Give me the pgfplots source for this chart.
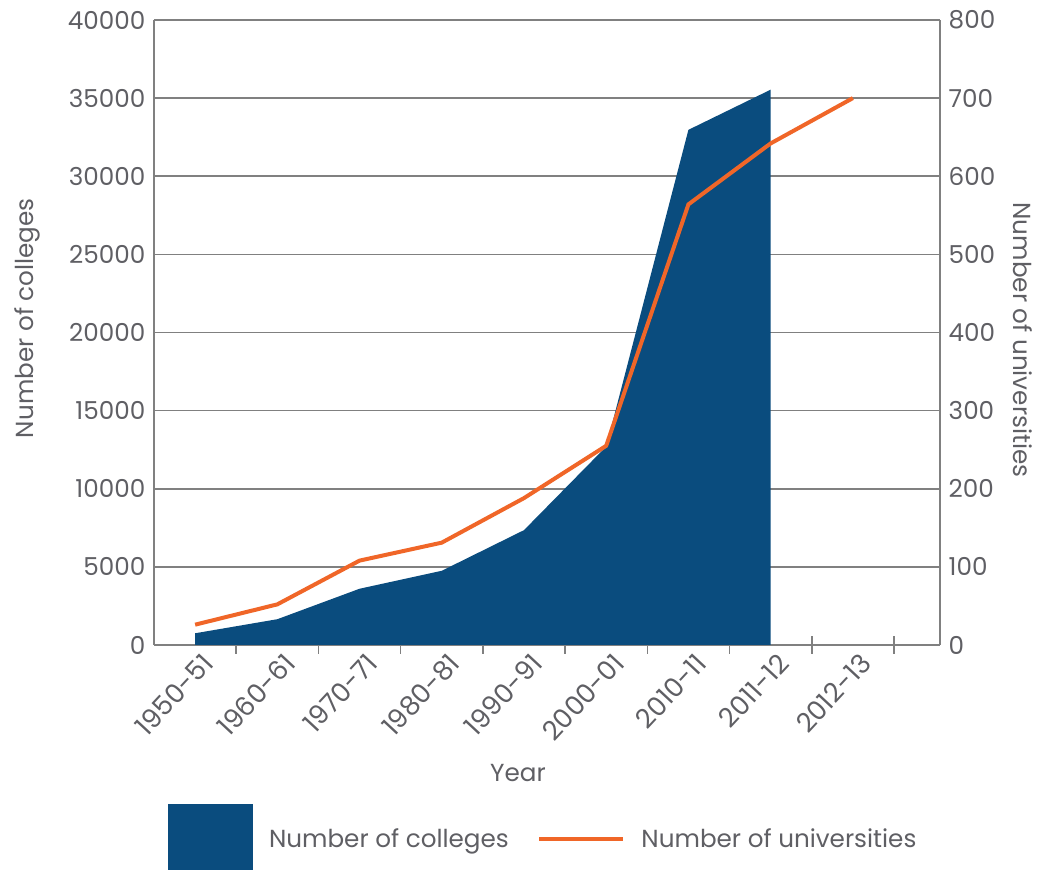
\documentclass[border=0pt]{standalone}
\usepackage{pgfplots}
\pgfplotsset{compat=1.18}
\usepackage{fontspec}
\setmainfont{Poppins}

\definecolor{collegeblue}{RGB}{10,76,126}
\definecolor{uniorange}{RGB}{240,102,40}
\definecolor{axisgray}{RGB}{128,128,128}
\definecolor{textgray}{RGB}{95,95,100}

\newcommand{\chartfont}{\fontsize{18.5}{22}\selectfont}

\pgfplotsset{
  base/.style={
    scale only axis,
    width=589.5pt, height=468.75pt,
    at={(115.5pt,171pt)}, anchor=south west,
    xmin=-0.5, xmax=9.06,
    ticklabel style={font=\chartfont, text=textgray},
    /pgf/number format/assume math mode=true,
    /pgf/number format/1000 sep={},
    scaled y ticks=false,
    axis line style={axisgray, line width=1.5pt},
    major tick length=0pt,
  }
}

\begin{document}
\begin{tikzpicture}
\path[use as bounding box] (0,0) rectangle (780pt,654.75pt);

% colleges, left axis
\begin{axis}[base,
  axis y line*=left, axis x line*=bottom,
  ymin=0, ymax=40000, ytick={0,5000,...,40000},
  yticklabel style={xshift=-3pt},
  ymajorgrids, grid style={axisgray, line width=1.2pt},
  xtick={0,...,8},
  xticklabels={1950-51,1960-61,1970-71,1980-81,1990-91,2000-01,2010-11,2011-12,2012-13},
  xticklabel style={font=\fontsize{20}{24}\selectfont, xshift=12pt, yshift=-7.5pt,
    rotate=47, anchor=east},
  minor xtick={0.5,1.5,...,8.5},
  minor tick length=13.5pt, tick align=center,
  minor x tick style={axisgray, line width=1.2pt},
  xlabel={Year},
  every axis x label/.style={at={(rel axis cs:0.463,-0.205)}, anchor=center,
    font=\chartfont, text=textgray},
  ylabel={Number of colleges},
  every axis y label/.style={at={(rel axis cs:-0.1616,0.523)}, rotate=90, anchor=center,
    font=\chartfont, text=textgray},
]
\addplot[fill=collegeblue, draw=none] coordinates {
  (0,750) (1,1650) (2,3600) (3,4750) (4,7350) (5,12700) (6,32970) (7,35540)
} \closedcycle;
\end{axis}

% universities, right axis
\begin{axis}[base,
  axis y line*=right, axis x line=none,
  xtick=\empty,
  ymin=0, ymax=800, ytick={0,100,...,800},
  yticklabel style={xshift=3pt},
  ylabel={Number of universities},
  every axis y label/.style={at={(rel axis cs:1.1056,0.488)}, rotate=-90, anchor=center,
    font=\chartfont, text=textgray},
  legend style={at={(rel axis cs:0.013,-0.307)}, anchor=west, draw=none, fill=none,
    font=\chartfont, text=textgray,
    /tikz/every odd column/.append style={column sep=10pt},
    /tikz/every even column/.append style={column sep=19.5pt}},
  legend columns=2,
]
\addlegendimage{legend image code/.code={\fill[collegeblue] (0pt,-23pt) rectangle (63pt,25.75pt);}}
\addlegendentry{Number of colleges}
\addplot[uniorange, line width=3pt,
  legend image code/.code={\draw[uniorange, line width=3pt] (0pt,0pt) -- (63pt,0pt);}] coordinates {
  (0,26) (1,52) (2,108) (3,131) (4,188) (5,255) (6,564) (7,642) (8,700)
};
\addlegendentry{Number of universities}
\end{axis}
\end{tikzpicture}
\end{document}
